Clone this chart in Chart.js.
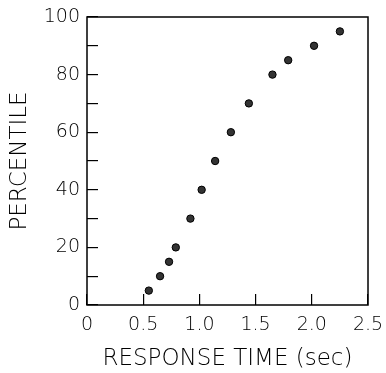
<!DOCTYPE html>
<html>
<head>
<meta charset="utf-8">
<script src="https://cdn.jsdelivr.net/npm/chart.js@4"></script>
<style>
  html, body { margin: 0; padding: 0; background: #fff; }
  #wrap { width: 386px; height: 373px; }
</style>
</head>
<body>
<div id="wrap"><canvas id="rtChart" width="386" height="373"></canvas></div>
<script>
// response time (sec) vs percentile
const responseTime = [0.55, 0.65, 0.73, 0.79, 0.92, 1.02, 1.14, 1.28, 1.44, 1.65, 1.79, 2.02, 2.25];
const percentile = [5, 10, 15, 20, 30, 40, 50, 60, 70, 80, 85, 90, 95];
const xTickLabels = ['0', '0.5', '1.0', '1.5', '2.0', '2.5'];
const yTickLabels = ['0', '', '20', '', '40', '', '60', '', '80', '', '100'];

const ink = '#000';
const fontFamily = "'DejaVu Sans', 'Liberation Sans', sans-serif";

const frameBox = {
    id: 'frameBox',
    afterDraw(chart) {
        const a = chart.chartArea;
        const c = chart.ctx;
        c.save();
        c.strokeStyle = ink;
        c.lineWidth = 1.5;
        c.strokeRect(a.left, a.top, a.right - a.left, a.bottom - a.top);
        c.restore();
    }
};

// keep the plot box where the figure has it
function noPad(scale) {
    scale.paddingTop = 0;
    scale.paddingBottom = 0;
    scale.paddingLeft = 0;
    scale.paddingRight = 0;
}

const ctx = document.getElementById('rtChart').getContext('2d');

new Chart(ctx, {
    type: 'scatter',
    data: {
        datasets: [{
            data: responseTime.map((t, i) => ({ x: t, y: percentile[i] })),
            pointRadius: 3.7,
            pointHoverRadius: 3.7,
            backgroundColor: '#333',
            borderColor: '#000',
            borderWidth: 1
        }]
    },
    options: {
        responsive: false,
        animation: false,
        layout: { padding: { top: 17, right: 18, left: 0, bottom: 0 } },
        plugins: { legend: { display: false }, tooltip: { enabled: false } },
        scales: {
            x: {
                type: 'linear',
                min: 0,
                max: 2.5,
                afterFit(scale) { scale.height = 68; noPad(scale); },
                border: { display: false },
                grid: { drawOnChartArea: false, tickLength: -11, color: ink, lineWidth: 1.2 },
                ticks: {
                    stepSize: 0.5,
                    padding: 20,
                    color: ink,
                    font: { family: fontFamily, size: 19, weight: '200' },
                    maxRotation: 0,
                    callback: (v, i) => xTickLabels[i]
                },
                title: {
                    display: true,
                    text: 'RESPONSE TIME (sec)',
                    color: ink,
                    font: { family: fontFamily, size: 23, weight: '200' },
                    padding: { top: 0, bottom: 0 }
                }
            },
            y: {
                min: 0,
                max: 100,
                afterFit(scale) { scale.width = 87; noPad(scale); },
                border: { display: false },
                grid: { drawOnChartArea: false, tickLength: -11, color: ink, lineWidth: 1.2 },
                ticks: {
                    stepSize: 10,
                    padding: 18,
                    color: ink,
                    font: { family: fontFamily, size: 19, weight: '200' },
                    callback: (v, i) => yTickLabels[i]
                },
                title: {
                    display: true,
                    text: 'PERCENTILE',
                    color: ink,
                    font: { family: fontFamily, size: 23, weight: '200' },
                    padding: { top: 6, bottom: 0 }
                }
            }
        }
    },
    plugins: [frameBox]
});
</script>
</body>
</html>
